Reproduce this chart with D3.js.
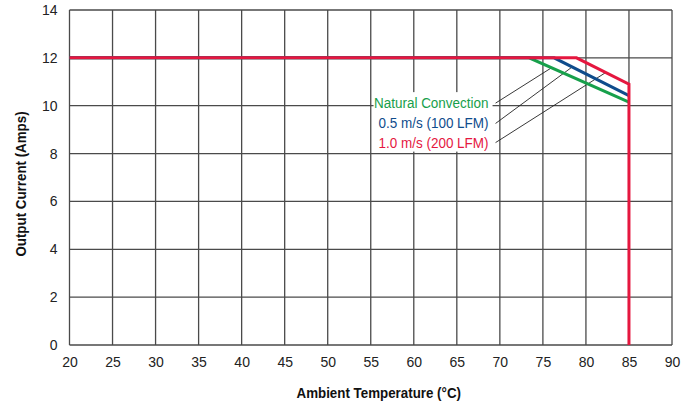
<!DOCTYPE html>
<html>
<head>
<meta charset="utf-8">
<script src="https://cdn.jsdelivr.net/npm/d3@7"></script>
<style>
  body { margin: 0; background: #fff; }
  text { font-family: "Liberation Sans", Arial, sans-serif; }
</style>
</head>
<body>
<svg id="chart"></svg>
<script>
// tick labels
const tempTicks = [20, 25, 30, 35, 40, 45, 50, 55, 60, 65, 70, 75, 80, 85, 90];
const ampTicks = [0, 2, 4, 6, 8, 10, 12, 14];

// derating curves (temp in °C, current in A)
const seriesNames = ["Natural Convection", "0.5 m/s (100 LFM)", "1.0 m/s (200 LFM)"];
const seriesColors = ["#17a04b", "#0f4c8c", "#e5173f"];
const naturalTemp = [20, 73.4, 85];
const naturalAmps = [12, 12, 10.15];
const lfm100Temp = [20, 76.3, 85];
const lfm100Amps = [12, 12, 10.42];
const lfm200Temp = [20, 78.9, 85, 85];
const lfm200Amps = [12, 12, 10.9, 0];

// where each leader line touches its curve
const leaderTemp = [76.0, 78.4, 82.3];
const leaderStartTemp = 69.5;
const labelAmps = [10.15, 9.3, 8.5];

var width = 695, height = 404;
var margin = { top: 10, right: 23, bottom: 59, left: 69.5 };

var svg = d3.select("#chart")
  .attr("width", width)
  .attr("height", height);

var x = d3.scaleLinear()
  .domain([20, 90])
  .range([margin.left, width - margin.right]);

var y = d3.scaleLinear()
  .domain([0, 14])
  .range([height - margin.bottom, margin.top]);

// grid
svg.append("g")
  .selectAll("line")
  .data(tempTicks)
  .enter()
  .append("line")
  .attr("x1", d => x(d)).attr("x2", d => x(d))
  .attr("y1", y(0)).attr("y2", y(14))
  .attr("stroke", "#4a4a4a")
  .attr("stroke-width", 1.3);

svg.append("g")
  .selectAll("line")
  .data(ampTicks)
  .enter()
  .append("line")
  .attr("x1", x(20)).attr("x2", x(90))
  .attr("y1", d => y(d)).attr("y2", d => y(d))
  .attr("stroke", "#4a4a4a")
  .attr("stroke-width", 1.3);

// axes (labels only, grid drawn above)
var xAxis = svg.append("g")
  .attr("transform", "translate(0," + y(0) + ")")
  .call(d3.axisBottom(x).tickValues(tempTicks).tickSize(0).tickPadding(12));
xAxis.select(".domain").remove();
xAxis.selectAll("text")
  .attr("font-size", "14px")
  .attr("font-family", "Liberation Sans, Arial, sans-serif")
  .attr("fill", "#222");

var yAxis = svg.append("g")
  .attr("transform", "translate(" + x(20) + ",0)")
  .call(d3.axisLeft(y).tickValues(ampTicks).tickSize(0).tickPadding(12));
yAxis.select(".domain").remove();
yAxis.selectAll("text")
  .attr("font-size", "14px")
  .attr("font-family", "Liberation Sans, Arial, sans-serif")
  .attr("fill", "#222");

// label backdrop
svg.append("rect")
  .attr("x", x(leaderStartTemp) - 122)
  .attr("y", y(labelAmps[0]) - 10)
  .attr("width", 119)
  .attr("height", y(labelAmps[2]) - y(labelAmps[0]) + 20)
  .attr("fill", "#fff");

// curves
var line = d3.line()
  .x(d => x(d[0]))
  .y(d => y(d[1]));

var curves = [
  d3.zip(naturalTemp, naturalAmps),
  d3.zip(lfm100Temp, lfm100Amps),
  d3.zip(lfm200Temp, lfm200Amps)
];

function ampAt(pts, t) {
  for (var i = 1; i < pts.length; i++) {
    if (t <= pts[i][0]) {
      var a = pts[i - 1], b = pts[i];
      return a[1] + (b[1] - a[1]) * (t - a[0]) / (b[0] - a[0]);
    }
  }
  return pts[pts.length - 1][1];
}

// leader lines
svg.append("g")
  .selectAll("line")
  .data(curves)
  .enter()
  .append("line")
  .attr("x1", x(leaderStartTemp))
  .attr("y1", (d, i) => y(labelAmps[i]) + 1)
  .attr("x2", (d, i) => x(leaderTemp[i]))
  .attr("y2", (d, i) => y(ampAt(d, leaderTemp[i])))
  .attr("stroke", "#222")
  .attr("stroke-width", 0.9);

svg.append("g")
  .selectAll("path")
  .data(curves)
  .enter()
  .append("path")
  .attr("d", line)
  .attr("fill", "none")
  .attr("stroke", (d, i) => seriesColors[i])
  .attr("stroke-width", 3);

// no narrow face installed, so squeeze the regular one
var squeeze = 0.87;

// legend labels
svg.append("g")
  .selectAll("text")
  .data(seriesNames)
  .enter()
  .append("text")
  .attr("transform", (d, i) =>
    "translate(" + (x(leaderStartTemp) - 7) + "," + (y(labelAmps[i]) + 6) + ") scale(" + squeeze + ",1)")
  .attr("text-anchor", "end")
  .attr("font-size", "15.5px")
  .attr("fill", (d, i) => seriesColors[i])
  .text(d => d);

// axis titles
svg.append("text")
  .attr("transform", "translate(" + ((x(20) + x(90)) / 2 + 8) + ",398) scale(0.89,1)")
  .attr("text-anchor", "middle")
  .attr("font-size", "15px")
  .attr("font-weight", "bold")
  .attr("fill", "#111")
  .text("Ambient Temperature (°C)");

svg.append("text")
  .attr("transform", "translate(26,184) rotate(-90) scale(0.89,1)")
  .attr("text-anchor", "middle")
  .attr("font-size", "15px")
  .attr("font-weight", "bold")
  .attr("fill", "#111")
  .text("Output Current (Amps)");
</script>
</body>
</html>
